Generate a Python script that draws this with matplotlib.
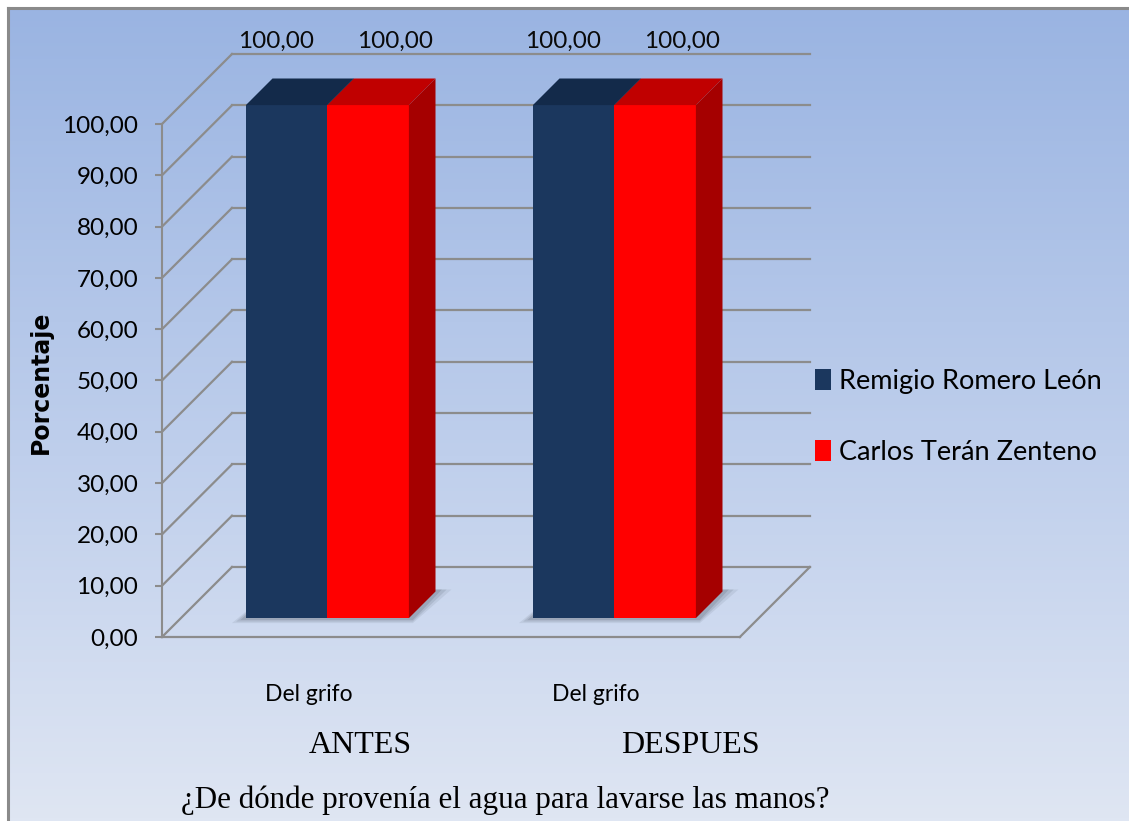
import matplotlib
matplotlib.use("Agg")
import matplotlib.pyplot as plt
import numpy as np
from matplotlib.patches import Polygon, Patch
from matplotlib.lines import Line2D
from matplotlib.colors import LinearSegmentedColormap

# ---- data ----
categories = ["Del grifo", "Del grifo"]
periods = ["ANTES", "DESPUES"]
series_names = ["Remigio Romero León", "Carlos Terán Zenteno"]
remigio = [100.0, 100.0]
carlos = [100.0, 100.0]
y_ticks = [0, 10, 20, 30, 40, 50, 60, 70, 80, 90, 100]
title = "¿De dónde provenía el agua para lavarse las manos?"
y_label = "Porcentaje"

# ---- style ----
front_cols = ["#1B375E", "#FF0000"]
top_cols = ["#132A4A", "#C00000"]
side_cols = ["#1A2F50", "#A50000"]
grid_col = "#8C8C8C"
sans = ["Lato", "DejaVu Sans"]
serif = ["Liberation Serif", "DejaVu Serif"]

W, H = 1129, 821
fig = plt.figure(figsize=(W / 100, H / 100), dpi=100)
fig.patch.set_facecolor("white")

# gradient backdrop inside the frame
bg = fig.add_axes([8 / W, 0, 1 - 8 / W, (H - 9) / H])
grad = LinearSegmentedColormap.from_list(
    "bgfade", [(0.0, "#DFE6F3"), (0.45, "#BFCFEC"), (1.0, "#9AB4E2")])
bg.imshow(np.linspace(0, 1, 256)[:, None], aspect="auto", cmap=grad,
          origin="lower", extent=[0, 1, 0, 1])
bg.set_axis_off()
# frame lines (left and top)
fig.add_artist(Line2D([7.5 / W, 7.5 / W], [0, 1 - 8 / H], color="#8A8A8A",
                      lw=2.2, transform=fig.transFigure))
fig.add_artist(Line2D([7.5 / W, 1], [1 - 8 / H, 1 - 8 / H], color="#8A8A8A",
                      lw=2.2, transform=fig.transFigure))

# ---- main axes: x in category units, y in percent ----
px_cat = 287.0      # pixels per category step
px_unit = 5.13      # pixels per percent
left_px, floor_px = 162, 637
ax = fig.add_axes([left_px / W, (H - floor_px) / H, (W - left_px) / W, floor_px / H])
ax.patch.set_visible(False)
x0 = (left_px - 308.5) / px_cat
ax.set_xlim(x0, x0 + (W - left_px) / px_cat)
ax.set_ylim(0, floor_px / px_unit)

DX = 70 / px_cat        # full depth, x shift
DY = 70 / px_unit       # full depth, y shift
FL, FR = x0, 1.503      # floor extent along the front edge

for s in ["top", "right", "bottom"]:
    ax.spines[s].set_visible(False)
ax.spines["left"].set_bounds(0, 100)
ax.spines["left"].set_color(grid_col)
ax.spines["left"].set_linewidth(1.5)
ax.set_yticks(y_ticks)
ax.yaxis.set_major_formatter(plt.FuncFormatter(lambda v, p: f"{v:.2f}".replace(".", ",")))
ax.tick_params(axis="y", direction="out", length=5, width=1.5, color=grid_col,
               pad=12, labelsize=17.5)
for lab in ax.get_yticklabels():
    lab.set_family(sans)
ax.set_xticks([0, 1])
ax.set_xticklabels(categories, family=sans, fontsize=16.5)
ax.tick_params(axis="x", length=0, pad=34)

ax.set_ylabel(y_label, family="DejaVu Sans", fontweight="bold", fontsize=17)
ax.yaxis.set_label_coords(-0.113, 0.40)

# back wall grid and side wall connectors
glw = 1.6
for v in y_ticks:
    ax.plot([FL, FL + DX], [v, v + DY], color=grid_col, lw=glw, clip_on=False, zorder=1)
    ax.plot([FL + DX, FR + DX], [v + DY, v + DY], color=grid_col, lw=glw,
            clip_on=False, zorder=1)
# floor edges
ax.plot([FL, FR], [0, 0], color=grid_col, lw=glw, clip_on=False, zorder=1)
ax.plot([FR, FR + DX], [0, DY], color=grid_col, lw=glw, clip_on=False, zorder=1)

# ---- 3D-style columns ----
bw = 81.5 / px_cat      # column width
d1 = 0.27               # front face depth
bd = 0.38               # column depth
bdx, bdy = bd * DX, bd * DY
base = d1 * DY
sx, sy = 1 / px_cat, 1 / px_unit   # one pixel in data units

values = [remigio, carlos]
for i in range(len(categories)):
    xj = i + d1 * DX
    left_edge = xj - bw
    right_edge = xj + bw
    # soft floor shadow
    for k, a in zip([1.0, 0.7, 0.4], [0.10, 0.14, 0.18]):
        shadow = Polygon([(left_edge - 14 * k * sx, base - 5 * k * sy),
                          (right_edge + 4 * sx, base - 5 * k * sy),
                          (right_edge + bdx + 16 * k * sx, base + bdy + 2 * sy),
                          (left_edge + bdx, base + bdy + 2 * sy)],
                         closed=True, fc="#4A5260", ec="none", alpha=a, zorder=2)
        ax.add_patch(shadow)
    for j, vals in enumerate(values):
        v = vals[i]
        xl = xj - bw if j == 0 else xj
        xr = xl + bw
        ax.bar(xl, v, width=bw, bottom=base, align="edge", color=front_cols[j],
               zorder=3 + j, clip_on=False, linewidth=0)
        ax.add_patch(Polygon([(xl, base + v), (xr, base + v),
                              (xr + bdx, base + v + bdy), (xl + bdx, base + v + bdy)],
                             closed=True, fc=top_cols[j], ec="none", zorder=3 + j,
                             clip_on=False))
        ax.add_patch(Polygon([(xr, base), (xr, base + v), (xr + bdx, base + v + bdy),
                              (xr + bdx, base + bdy)],
                             closed=True, fc=side_cols[j], ec="none", zorder=3 + j,
                             clip_on=False))
        ox = -27 if j == 0 else 0
        ax.annotate(f"{v:.2f}".replace(".", ","),
                    xy=(xl + bdx + bw / 2, base + v + bdy), xytext=(ox, 27),
                    textcoords="offset points", ha="center", va="center",
                    family=sans, fontsize=17.5, color="#0A0A0A", zorder=6)

# period names and question
fig.text(360 / W, 1 - 745 / H, periods[0], ha="center", va="center",
         family=serif, fontsize=23, color="black")
fig.text(690 / W, 1 - 745 / H, periods[1], ha="center", va="center",
         family=serif, fontsize=23, color="black")
fig.text(505 / W, 1 - 800 / H, title, ha="center", va="center",
         family=serif, fontsize=22.3, color="black")

# legend
handles = [Patch(facecolor=front_cols[j], edgecolor="none") for j in range(2)]
leg = fig.legend(handles, series_names, loc="upper left",
                 bbox_to_anchor=(815 / W, 1 - 369 / H), frameon=False,
                 prop={"family": sans, "size": 19.5}, handlelength=0.59,
                 handleheight=0.81, handletextpad=0.3, labelspacing=1.68,
                 borderpad=0, borderaxespad=0)

fig.savefig("out.png", dpi=100)
